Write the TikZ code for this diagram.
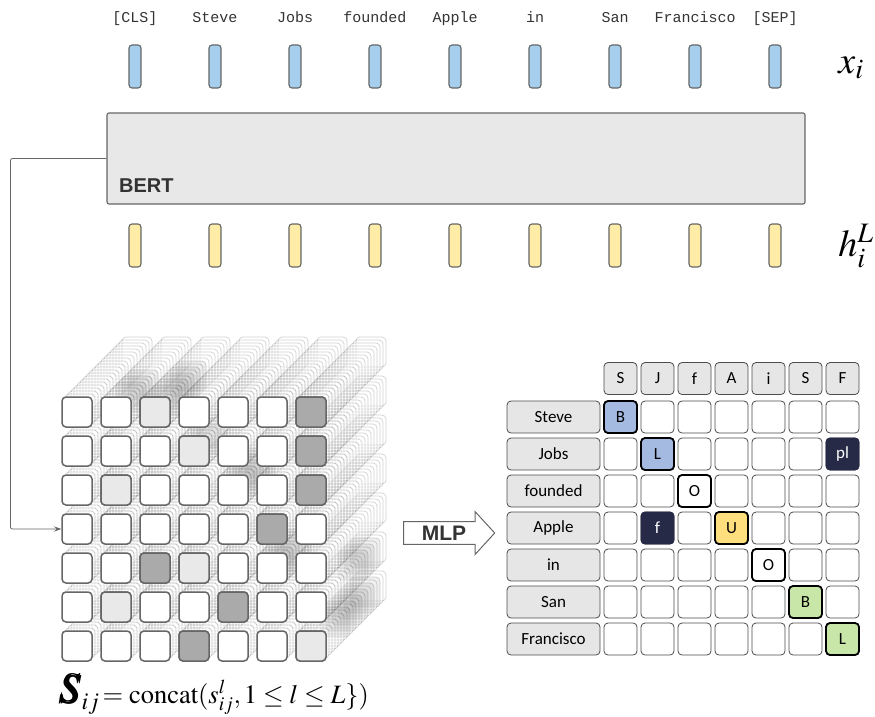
\documentclass[tikz,border=0pt]{standalone}
\usepackage{amsmath}
\usepackage{mathptmx}
\usepackage[no-math]{fontspec}
\setmainfont{Liberation Serif}
\newfontfamily\tokfont{Liberation Mono}
\newfontfamily\headfont{Liberation Sans}
\newfontfamily\calfont{Carlito}
\usetikzlibrary{shapes.arrows,arrows.meta}

\definecolor{xblue}{RGB}{165,207,237}
\definecolor{hyellow}{RGB}{255,236,166}
\definecolor{barline}{RGB}{102,102,102}
\definecolor{bertgray}{RGB}{232,232,232}
\definecolor{cubedark}{RGB}{170,170,170}
\definecolor{cubelight}{RGB}{233,233,233}
\definecolor{lblgray}{RGB}{230,230,230}
\definecolor{gblue}{RGB}{164,186,224}
\definecolor{gnavy}{RGB}{38,42,70}
\definecolor{gyellow}{RGB}{255,222,125}
\definecolor{ggreen}{RGB}{200,230,167}

\tikzset{
  toklab/.style={anchor=base,inner sep=0pt,text=black!80,font={\tokfont\fontsize{15}{17}\selectfont}},
  vecbar/.style={draw=barline,line width=1.1pt,rounded corners=3pt,minimum width=12pt,minimum height=43pt,inner sep=0pt},
  bertbox/.style={draw=barline,fill=bertgray,line width=1.1pt,rounded corners=2pt,minimum width=698pt,minimum height=91pt},
  mathlab/.style={inner sep=0pt,font=\fontsize{38}{40}\selectfont},
  ghostcell/.style={draw=black!60,draw opacity=.3,fill=white,fill opacity=.12,line width=.7pt,rounded corners=4pt},
  ghostshade/.style={fill=black,fill opacity=.06,rounded corners=4pt},
  cubecell/.style={draw=barline,fill=white,line width=1.5pt,rounded corners=4pt,minimum size=30pt,inner sep=0pt},
  link/.style={draw=barline,line width=.8pt,rounded corners=2pt,-{Stealth[length=7pt,width=5pt]}},
  mlparrow/.style={single arrow,draw=barline,fill=white,line width=1pt,minimum height=91pt,minimum width=43pt,
    single arrow head extend=10pt,single arrow tip angle=95,inner sep=3.5pt,text=black!80,
    font={\headfont\bfseries\fontsize{21}{22}\selectfont}},
  gridcell/.style={draw=black!70,fill=white,line width=.8pt,rounded corners=4pt,minimum width=33pt,minimum height=32pt,
    inner sep=0pt,font={\calfont\fontsize{17}{19}\selectfont}},
  gridhead/.style={gridcell,fill=lblgray},
  rowlab/.style={gridcell,fill=lblgray,minimum width=93pt},
  hicell/.style={gridcell,draw=black,line width=1.8pt},
  navycell/.style={gridcell,draw=gnavy,text=white}
}

\begin{document}
\begin{tikzpicture}[x=1pt,y=-1pt]
  \useasboundingbox (0,0) rectangle (875,717);
  % tokens, input vectors and last layer vectors
  \foreach \w [count=\i from 0] in {{[CLS]},Steve,Jobs,founded,Apple,in,San,Francisco,{[SEP]}}{
    \node[toklab] (w\i) at ({135+80*\i},23) {\w};
    \node[vecbar,fill=xblue] (x\i) at ({135+80*\i},66.5) {};
    \node[vecbar,fill=hyellow] (h\i) at ({135+80*\i},245.5) {};}
  \node[mathlab] (xlab) at (851,68) {$x_i$};
  \node[mathlab] (hlab) at (856,246) {$h_i^L$};
  \node[bertbox] (bert) at (456,158.5) {};
  \node[anchor=base west,inner sep=0pt,text=black!80,font={\headfont\bfseries\fontsize{20}{22}\selectfont}] (bertname) at (119,192) {BERT};
  % stacked score tables
  \foreach \k in {20,...,1}
    \foreach \r in {0,...,6}
      \foreach \c in {0,...,6}
        \draw[ghostcell] ({62+39*\c+3*\k},{397+39*\r-3*\k}) rectangle +(30,30);
  \foreach \c/\r/\k in {2/0/4,2/0/6,2/0/8,2/0/10,2/0/12,1/0/5,1/0/7,1/0/9,4/2/3,4/2/5,4/2/7,4/2/9,3/1/4,3/1/6,5/4/2,5/4/4,5/4/6,5/4/8,6/6/8,6/6/10,6/6/12,6/6/14,6/6/16,6/6/18,6/5/14,6/5/16,6/5/18}
    \fill[ghostshade] ({62+39*\c+3*\k},{397+39*\r-3*\k}) rectangle +(30,30);
  \foreach \r in {0,...,6}
    \foreach \c in {0,...,6}
      \node[cubecell] (s-\r-\c) at ({77+39*\c},{412+39*\r}) {};
  \foreach \r/\c/\f in {0/2/cubelight,0/6/cubedark,1/3/cubelight,1/6/cubedark,2/1/cubelight,2/6/cubedark,3/5/cubedark,4/2/cubedark,4/3/cubelight,5/1/cubelight,5/4/cubedark,6/3/cubedark,6/6/cubelight}
    \node[cubecell,fill=\f] (f-\r-\c) at (s-\r-\c) {};
  \draw[link] (bert.west) -- ++(-96,0) |- (s-3-0.west);
  \node[anchor=base west,inner sep=0pt,font=\fontsize{26.5}{28}\selectfont] (sform) at (60,703)
    {$\text{\fontsize{42}{42}\selectfont$\pmb{S}$}_{\text{\fontsize{24}{24}\selectfont$ij$}}\!=\mathrm{concat}(s^{l}_{ij},1\leq l\leq L\})$};
  \node[mlparrow] (mlp) at (444,533) {MLP};
  % tag table
  \foreach \t [count=\c from 0] in {S,J,f,A,i,S,F}
    \node[gridhead] (hd\c) at ({620.5+37*\c},378.5) {\t};
  \foreach \t [count=\r from 0] in {Steve,Jobs,founded,Apple,in,San,Francisco}{
    \node[rowlab] (rl\r) at (553.5,{417+37*\r}) {\t};
    \foreach \c in {0,...,6}
      \node[gridcell] (g-\r-\c) at ({620.5+37*\c},{417+37*\r}) {};}
  \foreach \r/\c/\s/\f/\t in {0/0/hicell/gblue/B,1/1/hicell/gblue/L,1/6/navycell/gnavy/pl,2/2/hicell/white/O,3/1/navycell/gnavy/f,3/3/hicell/gyellow/U,4/4/hicell/white/O,5/5/hicell/ggreen/B,6/6/hicell/ggreen/L}
    \node[\s,fill=\f] (m-\r-\c) at (g-\r-\c) {\t};
\end{tikzpicture}
\end{document}
